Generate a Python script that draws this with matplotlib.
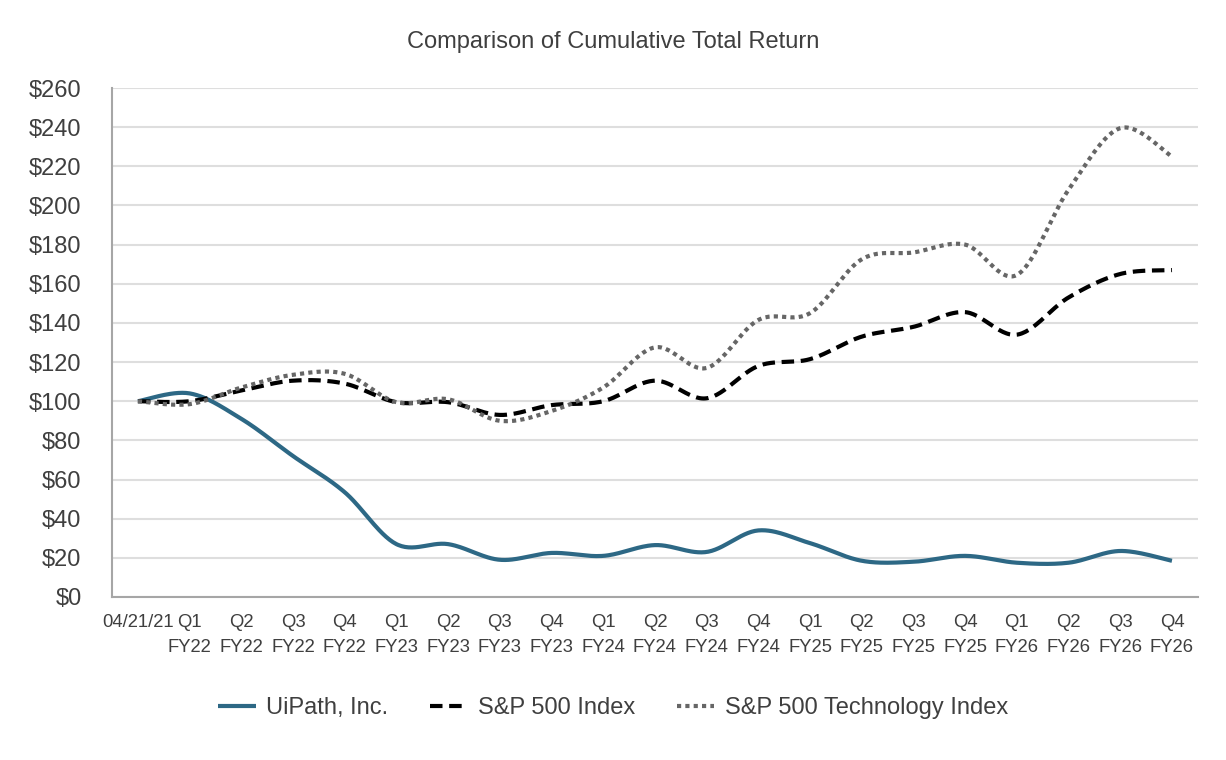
import numpy as np
from matplotlib import pyplot as plt

# region data
categories = ['04/21/21', 'Q1\nFY22', 'Q2\nFY22', 'Q3\nFY22', 'Q4\nFY22',
              'Q1\nFY23', 'Q2\nFY23', 'Q3\nFY23', 'Q4\nFY23',
              'Q1\nFY24', 'Q2\nFY24', 'Q3\nFY24', 'Q4\nFY24',
              'Q1\nFY25', 'Q2\nFY25', 'Q3\nFY25', 'Q4\nFY25',
              'Q1\nFY26', 'Q2\nFY26', 'Q3\nFY26', 'Q4\nFY26']
uipath = [100, 104, 91, 72, 53.5, 27, 27, 19, 22.5, 21, 26.5, 23, 34, 27.5,
          18.5, 18, 21, 17.5, 17.5, 23.5, 18.5]
sp500 = [100, 100, 105.5, 110.5, 109, 99.5, 99.5, 93, 98, 100, 110.5, 101.5,
         118, 121.5, 133, 138, 145.5, 134, 153, 165, 167]
sp500_tech = [100, 98.5, 107, 113.5, 114, 99.5, 101, 90, 95, 107, 127.5, 117,
              141.5, 145, 172.5, 176, 180, 164.5, 208, 239.5, 225]
yticks = list(range(0, 261, 20))
# endregion


def smooth(x, y, n=30):
    """Excel-style smoothed line: cubic Bezier segments with Catmull-Rom handles."""
    x = np.asarray(x, float)
    y = np.asarray(y, float)
    px = np.concatenate([[x[0]], x, [x[-1]]])
    py = np.concatenate([[y[0]], y, [y[-1]]])
    xs, ys = [], []
    t = np.linspace(0, 1, n, endpoint=False)
    for i in range(len(x) - 1):
        p0 = np.array([x[i], y[i]])
        p3 = np.array([x[i + 1], y[i + 1]])
        p1 = p0 + (np.array([px[i + 2], py[i + 2]]) - np.array([px[i], py[i]])) / 6.0
        p2 = p3 - (np.array([px[i + 3], py[i + 3]]) - np.array([px[i + 1], py[i + 1]])) / 6.0
        b = ((1 - t) ** 3)[:, None] * p0 + (3 * (1 - t) ** 2 * t)[:, None] * p1 \
            + (3 * (1 - t) * t ** 2)[:, None] * p2 + (t ** 3)[:, None] * p3
        xs.extend(b[:, 0])
        ys.extend(b[:, 1])
    xs.append(x[-1])
    ys.append(y[-1])
    return np.array(xs), np.array(ys)


def main():
    plt.rcParams['font.family'] = ['Liberation Sans', 'DejaVu Sans']
    txt = '#3f3f3f'

    fig = plt.figure(figsize=(12.26, 7.6), dpi=100)
    ax = fig.add_axes([0.0914, 0.2145, 0.8856, 0.6697])

    xpos = np.arange(len(categories))
    series = [
        (uipath, 'UiPath, Inc.', dict(color='#2d6885', linestyle='solid', linewidth=3.0)),
        (sp500, 'S&P 500 Index', dict(color='black', linestyle=(0, (3, 1.6)), linewidth=3.0)),
        (sp500_tech, 'S&P 500 Technology Index', dict(color='#666666', linestyle=(0, (1, 1)), linewidth=3.0)),
    ]
    for vals, lab, style in series:
        sx, sy = smooth(xpos, vals)
        ax.plot(sx, sy, label=lab, solid_capstyle='butt', dash_capstyle='butt', **style)

    ax.set_xlim(-0.5, len(categories) - 0.5)
    ax.set_ylim(0, 260)
    ax.set_yticks(yticks)
    ax.set_yticklabels(['$%d' % v for v in yticks], fontsize=17, color=txt)
    ax.set_xticks(xpos)
    ax.set_xticklabels(categories, fontsize=13.3, color=txt, linespacing=1.65)
    ax.tick_params(axis='both', length=0)
    ax.tick_params(axis='y', pad=22)
    ax.tick_params(axis='x', pad=12)
    ax.grid(axis='y', color='#dedede', linewidth=1.5)
    ax.set_axisbelow(True)
    for s in ['top', 'right']:
        ax.spines[s].set_visible(False)
    for s in ['left', 'bottom']:
        ax.spines[s].set_color('#a6a6a6')
        ax.spines[s].set_linewidth(1.5)

    fig.text(0.5, 0.945, 'Comparison of Cumulative Total Return', ha='center', va='center',
             fontsize=17, color=txt)

    leg = fig.legend(loc='center', bbox_to_anchor=(0.5, 0.068), ncol=3, frameon=False,
                     fontsize=17, handlelength=1.6, handletextpad=0.45, columnspacing=1.75)
    for t in leg.get_texts():
        t.set_color(txt)

    fig.savefig('out.png', dpi=100)


if __name__ == "__main__":
    main()
